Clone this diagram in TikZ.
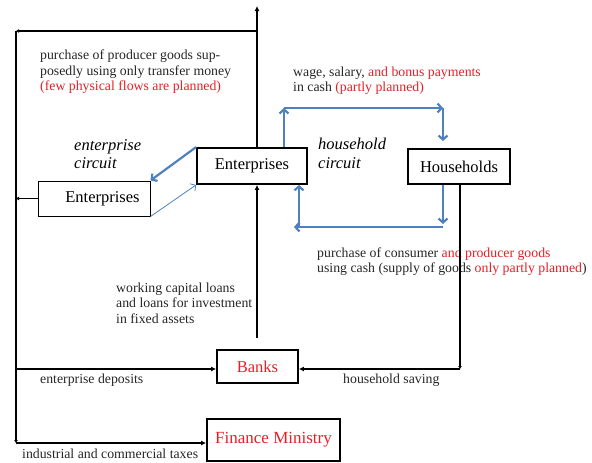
\documentclass[tikz,border=0pt]{standalone}
\usepackage{fontspec}
\setmainfont{Liberation Serif}
\usepackage{xcolor}
\usetikzlibrary{arrows.meta,positioning}
\definecolor{flowblue}{RGB}{79,129,189}
\definecolor{txtred}{RGB}{228,32,38}

\begin{document}
\begin{tikzpicture}[x=1pt, y=-1pt,
    box/.style={draw, line width=1.8pt, inner sep=0pt, font=\fontsize{16.5}{18}\selectfont},
    lbl/.style={font=\fontsize{13.8}{15.5}\selectfont, align=left, anchor=west, inner sep=0pt, text=black!85},
    circ/.style={font=\fontsize{16.5}{18.5}\selectfont\itshape, align=left, anchor=west, inner sep=0pt},
    flow/.style={line width=1.6pt, -{Latex[length=5pt,width=5pt]}},
    tick/.style={line width=1.6pt, -{Latex[length=3pt,width=4pt]}},
    bflow/.style={flowblue, line width=2.2pt, -{Straight Barb[length=4pt,width=9pt]}},
  ]
  \useasboundingbox (0,0) rectangle (592,463);

  % Boxes
  \node[box, minimum width=110pt, minimum height=36pt] (ent) at (252,166) {Enterprises};
  \node[box, line width=1pt, minimum width=112pt, minimum height=35pt] (entL) at (94,198.5)
    {\hspace*{17pt}Enterprises};
  \node[box, minimum width=102pt, minimum height=35pt] (hh) at (459,166.5) {Households};
  \node[box, minimum width=81pt, minimum height=33pt, text=txtred] (banks) at (257.5,366.5) {Banks};
  \node[box, minimum width=133pt, minimum height=42pt, text=txtred,
    font=\fontsize{17}{19}\selectfont] (fin) at (273.5,440) {Finance Ministry};

  % Labels
  \node[lbl] (lpg) at (40,72) {purchase of producer goods sup-\\posedly using only transfer money\\
    \textcolor{txtred}{(few physical flows are planned)}};
  \node[lbl] (lwage) at (293,80.5) {wage, salary, \textcolor{txtred}{and bonus payments}\\
    in cash \textcolor{txtred}{(partly planned)}};
  \node[circ] (cent) at (74,154) {enterprise\\circuit};
  \node[circ] (chh) at (318,153.5) {household\\circuit};
  \node[lbl] (lcons) at (317,261.5) {purchase of consumer \textcolor{txtred}{and producer goods}\\
    using cash (supply of goods \textcolor{txtred}{only partly planned})};
  \node[lbl] (lloan) at (116,303) {working capital loans\\and loans for investment\\in fixed assets};
  \node[lbl] (ldep) at (40,380) {enterprise deposits};
  \node[lbl] (lsav) at (343,380) {household saving};
  \node[lbl] (ltax) at (22,454) {industrial and commercial taxes};

  % Black flows
  \coordinate (tl) at (16,31);
  \coordinate (tr) at (257,31);
  \coordinate (tt) at (257,6);
  \coordinate (bl) at (16,443);
  \coordinate (dep) at (16,369);
  \coordinate (loan) at (257,338);
  \coordinate (sav) at (460,369);

  \draw[flow] (ent.north -| tr) -- (tt);
  \draw[tick] (tr) -- (tl);
  \draw[tick] (tl) -- (bl);
  \draw[flow] (bl) -- (bl -| fin.west);
  \draw[tick] (entL.west) -- (entL.west -| tl);
  \draw[flow] (dep) -- (dep -| banks.west);
  \draw[flow] (loan) -- (ent.south -| loan);
  \draw[tick] (hh.south -| sav) -- (sav);
  \draw[flow] (sav) -- (sav -| banks.east);

  % Blue flows: household circuit
  \coordinate (wa) at (284,108);
  \coordinate (wb) at (443,108);
  \coordinate (wc) at (443,141);
  \draw[bflow] (ent.north -| wa) -- (wa);
  \draw[bflow] (wa) -- (wb);
  \draw[bflow] (wb) -- (wc);

  \coordinate (pa) at (443,224);
  \coordinate (pb) at (443,227);
  \coordinate (pc) at (294,227);
  \coordinate (pd) at (299,227);
  \draw[bflow] (hh.south -| pa) -- (pa);
  \draw[bflow] (pb) -- (pc);
  \draw[bflow] (pd) -- (ent.south -| pd);

  % Blue flows: enterprise circuit
  \draw[bflow] (ent.north west) -- (entL.north east);
  \draw[bflow, line width=0.8pt] (entL.south east) -- (ent.south west);

\end{tikzpicture}
\end{document}
